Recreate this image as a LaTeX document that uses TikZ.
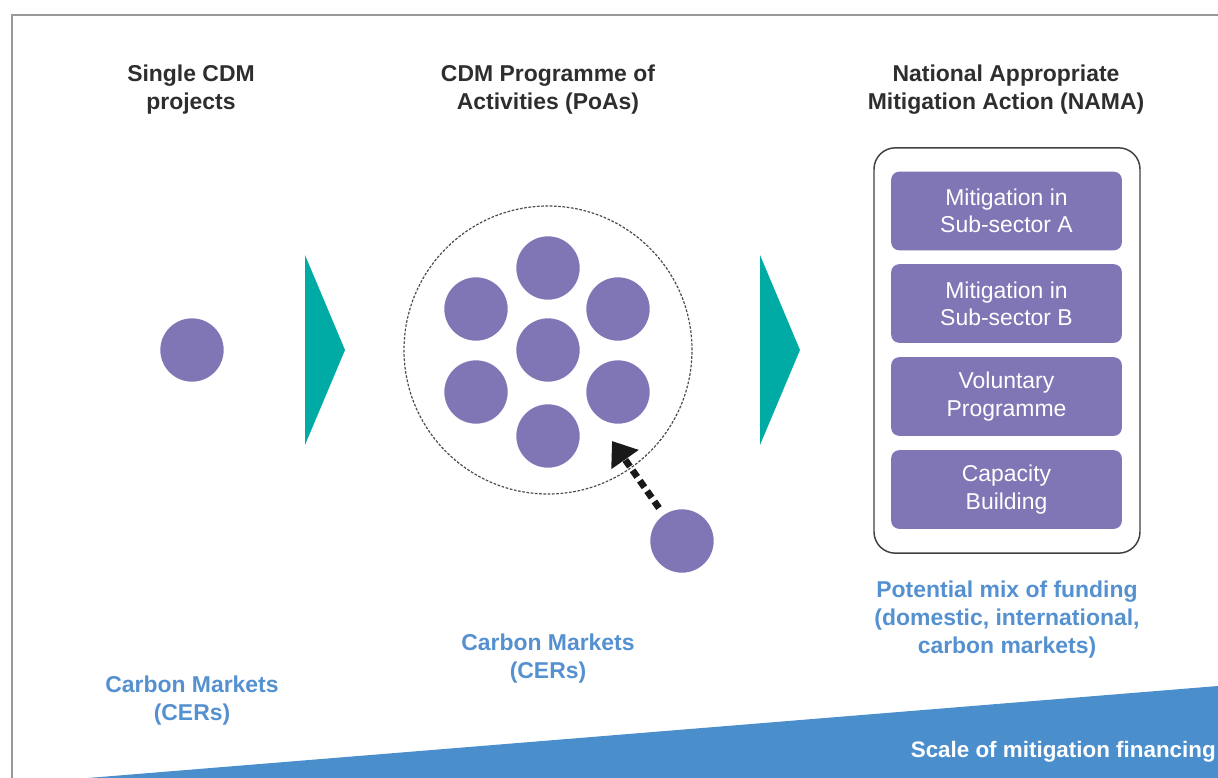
\documentclass[tikz,border=0pt]{standalone}
\usepackage{fontspec}
\setmainfont{Liberation Sans}
\usetikzlibrary{arrows.meta}
\definecolor{purp}{HTML}{8076B5}
\definecolor{teal1}{HTML}{00AAA5}
\definecolor{blu}{HTML}{4A8ECB}
\definecolor{blutext}{HTML}{5591D0}
\definecolor{headtext}{HTML}{2E2E2E}
\tikzset{
  head/.style={font=\bfseries\fontsize{17.2}{21}\selectfont, text=headtext, align=center},
  bluelabel/.style={font=\bfseries\fontsize{17.2}{21}\selectfont, text=blutext, align=center},
  proj/.style={circle, fill=purp, minimum size=47.5pt, inner sep=0pt},
  subbox/.style={rectangle, rounded corners=6pt, fill=purp, minimum width=173pt, minimum height=59pt, text=white, align=center, font=\fontsize{17.2}{20.5}\selectfont},
  chev/.style={fill=teal1}
}
\begin{document}
\begin{tikzpicture}[x=0.75pt,y=-0.75pt]
\useasboundingbox (0,0) rectangle (1218,778);
% frame
\draw[line width=1.5pt, gray!80] (12,778) -- (12,15) -- (1218,15);
% bottom wedge
\fill[blu] (88,778) -- (1218,686) -- (1218,778) -- cycle;
\node[anchor=east, text=white, font=\bfseries\fontsize{16.8}{18}\selectfont, inner sep=0pt] (scale) at (1216,752) {Scale of mitigation financing};
% headings
\node[head] (h1) at (191,90) {Single CDM\\projects};
\node[head] (h2) at (548,90) {CDM Programme of\\Activities (PoAs)};
\node[head] (h3) at (1006,90) {National Appropriate\\Mitigation Action (NAMA)};
% single project
\node[proj] (single) at (192,350) {};
% chevrons
\fill[chev] (305,255) -- (345,350) -- (305,445) -- cycle;
\fill[chev] (760,255) -- (800,350) -- (760,445) -- cycle;
% PoA
\node[circle, draw=gray!60!black, dash pattern=on 2pt off 1.2pt, line width=0.9pt, minimum size=216pt, inner sep=0pt] (poa) at (548,350) {};
\node[proj] (p1) at (548,268) {};
\node[proj] (p2) at (476,309) {};
\node[proj] (p3) at (618,309) {};
\node[proj] (p4) at (548,350) {};
\node[proj] (p5) at (476,392) {};
\node[proj] (p6) at (618,392) {};
\node[proj] (p7) at (548,436) {};
\node[proj] (newp) at (682,541) {};
\coordinate (tip) at (612,441);
\coordinate (tail) at (659,508);
\draw[line width=5pt, dash pattern=on 6pt off 3.5pt, -{Triangle[length=17pt,width=24pt]}, black!90] (tail) -- (tip);
% NAMA
\node[draw=black!75, line width=1.1pt, rounded corners=16pt, minimum width=199.5pt, minimum height=304pt] (nama) at (1007,350.5) {};
\node[subbox] (s1) at (1006.5,211) {Mitigation in\\Sub-sector A};
\node[subbox] (s2) at (1006.5,303.5) {Mitigation in\\Sub-sector B};
\node[subbox] (s3) at (1006.5,396.5) {Voluntary\\Programme};
\node[subbox] (s4) at (1006.5,489.5) {Capacity\\Building};
% blue labels
\node[bluelabel] (c1) at (192,701) {Carbon Markets\\(CERs)};
\node[bluelabel] (c2) at (548,659) {Carbon Markets\\(CERs)};
\node[bluelabel] (c3) at (1007,620) {Potential mix of funding\\(domestic, international,\\carbon markets)};
\end{tikzpicture}
\end{document}
